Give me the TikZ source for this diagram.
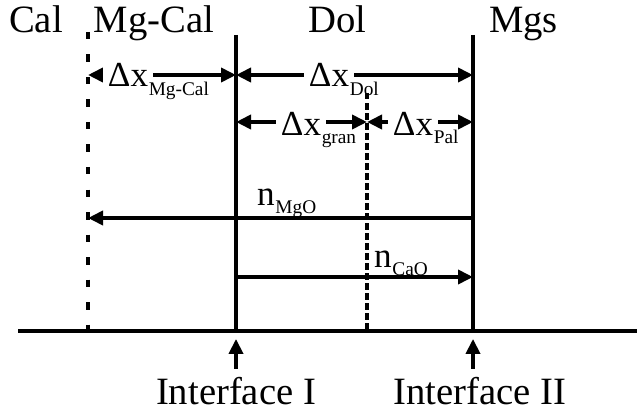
\documentclass[tikz,border=0pt]{standalone}
\usepackage{fontspec}
\setmainfont{Liberation Serif}
\usetikzlibrary{arrows.meta,positioning,calc}

\begin{document}
\begin{tikzpicture}[
    wall/.style={line width=2.1pt},
    bound/.style={line width=2.1pt, dash pattern=on 0.15cm off 0.3cm},
    grain/.style={line width=1.9pt, dash pattern=on 0.13cm off 0.07cm},
    flux/.style={line width=2.1pt, -{Triangle[length=0.3cm,width=0.28cm]}},
    span/.style={line width=2.1pt, {Triangle[length=0.3cm,width=0.28cm]}-{Triangle[length=0.3cm,width=0.28cm]}},
    phase/.style={font=\fontsize{22}{26}\selectfont, anchor=base, inner sep=0pt},
    qty/.style={font=\fontsize{20}{24}\selectfont, anchor=base, fill=white, inner xsep=3pt, inner ysep=1pt},
    rate/.style={font=\fontsize{20}{24}\selectfont, anchor=base, inner xsep=3pt, inner ysep=0pt},
    idx/.style={font=\fontsize{11}{13}\selectfont, anchor=base west, inner sep=0pt, xshift=-3pt, yshift=-0.16cm}
]
\useasboundingbox (0,0) rectangle (12.74,8.28);

% Walls and boundaries
\coordinate (Ltop) at (1.76,7.64);
\coordinate (Lbot) at (1.76,1.66);
\coordinate (Itop) at (4.72,7.58);
\coordinate (Ibot) at (4.72,1.66);
\coordinate (Gtop) at (7.34,6.42);
\coordinate (Gbot) at (7.34,1.66);
\coordinate (IItop) at (9.46,7.58);
\coordinate (IIbot) at (9.46,1.66);
\coordinate (west) at (0.36,1.66);
\coordinate (east) at (12.74,1.66);

% Rows of the arrows
\coordinate (rowA) at (0,6.78);
\coordinate (rowB) at (0,5.84);
\coordinate (rowMg) at (0,3.92);
\coordinate (rowCa) at (0,2.74);

\draw[bound] (Ltop) -- (Lbot);
\draw[grain] (Gtop) -- (Gbot);
\draw[wall] (Itop) -- (Ibot);
\draw[wall] (IItop) -- (IIbot);
\draw[wall] (west) -- (east);

% Widths
\draw[span] (Lbot |- rowA) -- (Ibot |- rowA);
\draw[span] (Ibot |- rowA) -- (IIbot |- rowA);
\draw[span] (Ibot |- rowB) -- (Gbot |- rowB);
\draw[span] (Gbot |- rowB) -- (IIbot |- rowB);

% Fluxes
\draw[flux] (IIbot |- rowMg) -- (Lbot |- rowMg);
\draw[flux] (Ibot |- rowCa) -- (IIbot |- rowCa);

% Phase labels
\node[phase] (cal) at (0.72,7.62) {Cal};
\node[phase] (mgcal) at (3.08,7.62) {Mg-Cal};
\node[phase] (dol) at (6.75,7.62) {Dol};
\node[phase] (mgs) at (10.47,7.62) {Mgs};

% Width labels
\node[qty] (dxmgcal) at (2.56,6.54) {Δx};
\node[idx] (dxmgcal-i) at (dxmgcal.base east) {Mg-Cal};
\node[qty] (dxdol) at (6.58,6.54) {Δx};
\node[idx] (dxdol-i) at (dxdol.base east) {Dol};
\node[qty] (dxgran) at (6.02,5.58) {Δx};
\node[idx] (dxgran-i) at (dxgran.base east) {gran};
\node[qty] (dxpal) at (8.26,5.58) {Δx};
\node[idx] (dxpal-i) at (dxpal.base east) {Pal};

% Flux labels
\node[rate] (nmgo) at (5.32,4.18) {n};
\node[idx] (nmgo-i) at (nmgo.base east) {MgO};
\node[rate] (ncao) at (7.66,2.94) {n};
\node[idx] (ncao-i) at (ncao.base east) {CaO};

% Interfaces
\node[phase] (ifI) at (4.72,0.2) {Interface I};
\node[phase] (ifII) at (9.6,0.2) {Interface II};
\draw[flux] (ifI.north -| Ibot) ++(0,0.15) -- ++(0,0.6);
\draw[flux] (ifII.north -| IIbot) ++(0,0.15) -- ++(0,0.6);
\end{tikzpicture}
\end{document}
